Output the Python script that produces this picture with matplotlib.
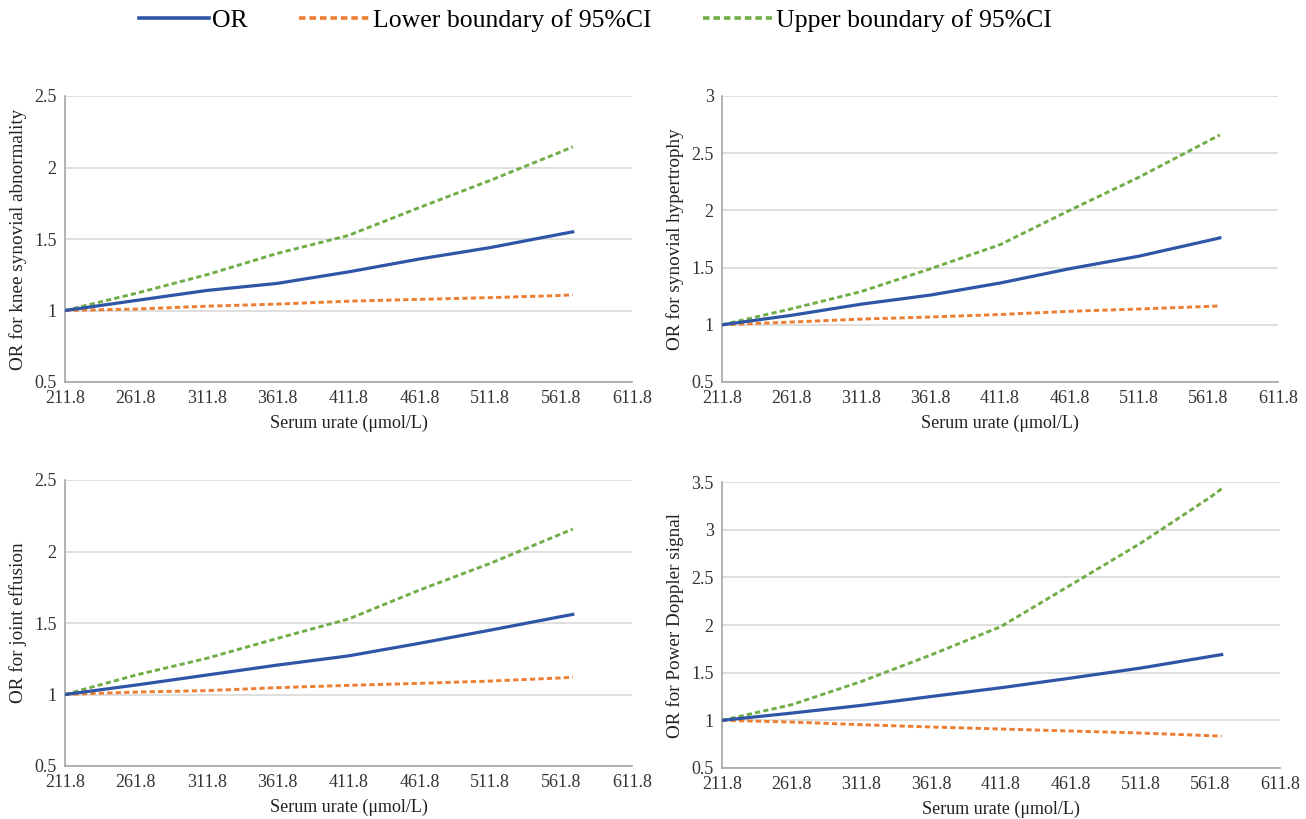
import matplotlib
matplotlib.use('Agg')
import matplotlib.pyplot as plt
from matplotlib.lines import Line2D

plt.rcParams['font.family'] = ['Liberation Serif', 'DejaVu Serif']

# serum urate (umol/L) at which the curves were read
urate = [211.8, 261.8, 311.8, 361.8, 411.8, 461.8, 511.8, 561.8, 570.0]

# knee synovial abnormality
or_knee = [1.00, 1.07, 1.14, 1.19, 1.27, 1.36, 1.44, 1.535, 1.55]
lo_knee = [1.00, 1.01, 1.03, 1.045, 1.065, 1.078, 1.09, 1.105, 1.11]
hi_knee = [1.00, 1.12, 1.25, 1.40, 1.525, 1.72, 1.91, 2.11, 2.145]

# synovial hypertrophy
or_hyp = [1.00, 1.083, 1.18, 1.26, 1.365, 1.49, 1.60, 1.737, 1.76]
lo_hyp = [1.00, 1.024, 1.05, 1.068, 1.09, 1.118, 1.138, 1.161, 1.165]
hi_hyp = [1.00, 1.14, 1.29, 1.49, 1.70, 2.00, 2.29, 2.608, 2.66]

# joint effusion
or_eff = [1.00, 1.066, 1.136, 1.206, 1.27, 1.358, 1.45, 1.545, 1.56]
lo_eff = [1.00, 1.017, 1.027, 1.048, 1.064, 1.078, 1.094, 1.116, 1.12]
hi_eff = [1.00, 1.136, 1.253, 1.393, 1.528, 1.73, 1.917, 2.123, 2.157]

# power doppler signal
or_pd = [1.00, 1.076, 1.157, 1.25, 1.342, 1.443, 1.548, 1.67, 1.69]
lo_pd = [1.00, 0.982, 0.954, 0.93, 0.909, 0.888, 0.867, 0.839, 0.835]
hi_pd = [1.00, 1.164, 1.408, 1.687, 1.984, 2.42, 2.857, 3.34, 3.43]

x_ticks = [211.8, 261.8, 311.8, 361.8, 411.8, 461.8, 511.8, 561.8, 611.8]

panels = [
    ('OR for knee synovial abnormality', or_knee, lo_knee, hi_knee, [0.5, 1, 1.5, 2, 2.5]),
    ('OR for synovial hypertrophy', or_hyp, lo_hyp, hi_hyp, [0.5, 1, 1.5, 2, 2.5, 3]),
    ('OR for joint effusion', or_eff, lo_eff, hi_eff, [0.5, 1, 1.5, 2, 2.5]),
    ('OR for Power Doppler signal', or_pd, lo_pd, hi_pd, [0.5, 1, 1.5, 2, 2.5, 3, 3.5]),
]

C_OR = '#2F56A6'
C_LO = '#ED7D31'
C_HI = '#70AD47'
C_GRID = '#D9D9D9'
C_AX = '#A6A6A6'
DASH = (0, (1.8, 1.1))

W, H = 1306, 819
# axes boxes in pixels: left, top, right, bottom
boxes = [(65, 96, 632, 382), (722, 96, 1278, 382),
         (65, 480, 632, 766), (722, 482, 1280, 768)]

fig = plt.figure(figsize=(W / 100, H / 100), dpi=100)

for (ylab, y_or, y_lo, y_hi, yt), (l, t, r, b) in zip(panels, boxes):
    ax = fig.add_axes([l / W, (H - b) / H, (r - l) / W, (b - t) / H])
    ax.plot(urate, y_hi, color=C_HI, lw=2.1, ls=DASH, zorder=3)
    ax.plot(urate, y_lo, color=C_LO, lw=2.1, ls=DASH, zorder=3)
    ax.plot(urate, y_or, color=C_OR, lw=2.3, zorder=4)

    ax.set_xlim(211.8, 611.8)
    ax.set_ylim(yt[0], yt[-1])
    ax.set_xticks(x_ticks)
    ax.set_xticklabels([f'{v:.1f}' for v in x_ticks])
    ax.set_yticks(yt)
    ax.set_yticklabels([f'{v:g}' for v in yt])
    ax.tick_params(length=0, labelsize=13, colors='#333333', pad=6)
    ax.grid(axis='y', color=C_GRID, lw=1.2)
    ax.set_axisbelow(True)
    for s in ('top', 'right'):
        ax.spines[s].set_visible(False)
    for s in ('left', 'bottom'):
        ax.spines[s].set_color(C_AX)
        ax.spines[s].set_linewidth(1.2)
    ax.set_xlabel('Serum urate (\u03bcmol/L)', fontsize=13, color='#222222', labelpad=5)
    ax.set_ylabel(ylab, fontsize=13.8, color='#222222', labelpad=5)

handles = [
    Line2D([], [], color=C_OR, lw=2.6),
    Line2D([], [], color=C_LO, lw=2.6, ls=DASH),
    Line2D([], [], color=C_HI, lw=2.6, ls=DASH),
]
labels = ['OR', 'Lower boundary of 95%CI', 'Upper boundary of 95%CI']
fig.legend(handles, labels, loc='center', bbox_to_anchor=(0.456, 1 - 21 / H),
           ncol=3, frameon=False, fontsize=18.5, handlelength=2.7,
           handletextpad=0.15, columnspacing=2.0)

fig.savefig('out.png', dpi=100, facecolor='white')
